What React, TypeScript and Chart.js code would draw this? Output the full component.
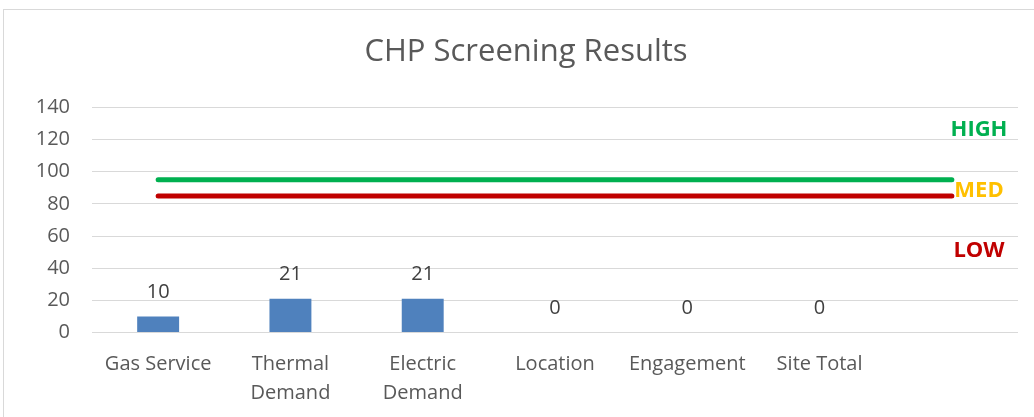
import React, { useEffect, useRef } from "react";
import { Chart, registerables } from "chart.js";

Chart.register(...registerables);

const chartTitle = "CHP Screening Results";
const categories: string[][] = [
  ["Gas Service"],
  ["Thermal", "Demand"],
  ["Electric", "Demand"],
  ["Location"],
  ["Engagement"],
  ["Site Total"],
  [""],
];
const scores: (number | null)[] = [10, 21, 21, 0, 0, 0, null];
const highLine = [95, 95, 95, 95, 95, 95, 95];
const lowLine = [85, 85, 85, 85, 85, 85, 85];
const bandLabels = ["HIGH", "MED", "LOW"];
const bandLabelValues = [126, 88, 51];
const bandLabelColors = ["#00B050", "#FFC000", "#C00000"];
const yMax = 140;
const yStep = 20;

const FONT = "'Open Sans', sans-serif";

export default function App() {
  const ref = useRef<HTMLCanvasElement | null>(null);

  useEffect(() => {
    if (!ref.current) return;

    const overlay = {
      id: "overlay",
      afterDatasetsDraw(chart: any) {
        const ctx = chart.ctx;
        ctx.save();
        // title
        ctx.fillStyle = "#595959";
        ctx.font = `31px ${FONT}`;
        ctx.textAlign = "center";
        ctx.textBaseline = "middle";
        ctx.fillText(chartTitle, 526, 52);
        // data labels
        const meta = chart.getDatasetMeta(0);
        ctx.font = `20px ${FONT}`;
        ctx.fillStyle = "#404040";
        meta.data.forEach((el: any, i: number) => {
          const v = scores[i];
          if (v === null || v === undefined) return;
          ctx.fillText(String(v), el.x, el.y - 24);
        });
        // band labels
        const y = chart.scales.y;
        ctx.font = `bold 22px ${FONT}`;
        ctx.textAlign = "center";
        bandLabels.forEach((t, i) => {
          ctx.fillStyle = bandLabelColors[i];
          ctx.fillText(t, 979, y.getPixelForValue(bandLabelValues[i]));
        });
        ctx.restore();
      },
    };

    const chart = new Chart(ref.current, {
      type: "bar",
      data: {
        labels: categories,
        datasets: [
          {
            type: "bar",
            data: scores,
            backgroundColor: "#4F81BD",
            borderWidth: 0,
            categoryPercentage: 1,
            barPercentage: 0.317,
            order: 3,
          } as any,
          {
            type: "line",
            data: highLine,
            borderColor: "#00B050",
            borderWidth: 5,
            borderCapStyle: "round",
            pointRadius: 0,
            fill: false,
            order: 1,
          } as any,
          {
            type: "line",
            data: lowLine,
            borderColor: "#C00000",
            borderWidth: 5,
            borderCapStyle: "round",
            pointRadius: 0,
            fill: false,
            order: 2,
          } as any,
        ],
      },
      options: {
        animation: false,
        responsive: false,
        devicePixelRatio: 1,
        layout: { padding: { top: 107.5, right: 16, left: 0, bottom: 0 } },
        plugins: {
          legend: { display: false },
          tooltip: { enabled: false },
          title: { display: false },
        },
        scales: {
          x: {
            offset: true,
            grid: { display: false },
            border: { display: false },
            ticks: {
              color: "#595959",
              font: { family: FONT, size: 20, lineHeight: 1.45 },
              maxRotation: 0,
              autoSkip: false,
              padding: 9,
            },
            afterFit: (s: any) => {
              s.height = 84.5;
            },
          },
          y: {
            min: 0,
            max: yMax,
            grid: { color: "#D9D9D9", lineWidth: 1, drawTicks: false },
            border: { display: false },
            ticks: {
              stepSize: yStep,
              color: "#595959",
              font: { family: FONT, size: 20 },
              padding: 22,
            },
            afterFit: (s: any) => {
              s.width = 92;
            },
          },
        },
      },
      plugins: [overlay],
    });
    return () => chart.destroy();
  }, []);

  return (
    <div
      style={{
        position: "fixed",
        left: 0,
        top: 0,
        width: 1034,
        height: 417,
        overflow: "hidden",
        background: "#fff",
      }}
    >
      <div
        style={{
          position: "absolute",
          left: 3,
          top: 9,
          width: 1100,
          height: 500,
          border: "1px solid #D9D9D9",
        }}
      />
      <canvas
        ref={ref}
        width={1034}
        height={417}
        style={{ position: "absolute", left: 0, top: 0, width: 1034, height: 417 }}
      />
    </div>
  );
}
